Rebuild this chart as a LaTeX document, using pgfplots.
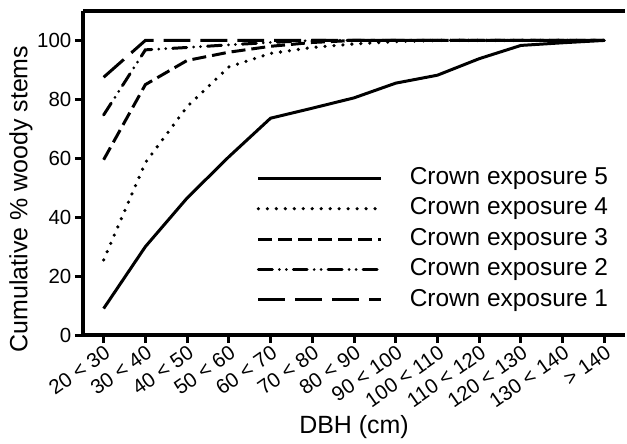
\documentclass[border=0pt]{standalone}
\usepackage{fontspec}
\setmainfont{Liberation Sans}
\usepackage{pgfplots}
\usepackage{pgfplotstable}
\pgfplotsset{compat=1.18}

% cumulative % of woody stems per DBH class (0 = 20<30 ... 12 = >140)
\pgfplotstableread{
x  ce5   ce4   ce3   ce2   ce1
0  9.0   25.5  59.5  74.7  87.5
1  30.0  58.5  85.0  96.8  100
2  46.5  77.5  93.2  97.6  100
3  60.5  91.0  96.0  98.5  100
4  73.6  95.6  98.0  99.3  100
5  77.0  97.6  99.3  100   100
6  80.5  98.8  100   100   100
7  85.5  99.6  100   100   100
8  88.2  100   100   100   100
9  93.8  100   100   100   100
10 98.3  100   100   100   100
11 99.2  100   100   100   100
12 100   100   100   100   100
}\crowndata

\begin{document}
\begin{tikzpicture}
\begin{axis}[
    scale only axis, width=544pt, height=325pt,
    xmin=-0.5, xmax=12.5, ymin=0, ymax=110,
    axis x line=box, axis y line=left,
    axis line style={line width=3.5pt, -},
    xtick pos=bottom, ytick pos=left,
    tick align=outside, major tick length=8pt,
    every tick/.style={black, line width=3pt},
    xtick={0,...,12},
    xticklabels={20 < 30, 30 < 40, 40 < 50, 50 < 60, 60 < 70, 70 < 80, 80 < 90,
                 90 < 100, 100 < 110, 110 < 120, 120 < 130, 130 < 140, > 140},
    ytick={0,20,...,100},
    /pgf/number format/assume math mode=true,
    tick label style={font=\fontsize{20.5}{24}\selectfont},
    x tick label style={rotate=35, anchor=north east, inner sep=1pt},
    xlabel={DBH (cm)}, ylabel={Cumulative \% woody stems},
    every axis x label/.style={at={(axis description cs:0.5,-0.283)}, anchor=center,
                               font=\fontsize{25}{28}\selectfont},
    every axis y label/.style={at={(axis description cs:-0.114,0.42)}, rotate=90, anchor=center,
                               font=\fontsize{25}{28}\selectfont},
    legend image code/.code={\draw[#1] (0pt,0pt) -- (123pt,0pt);},
    legend cell align=left,
    legend style={at={(0.32,0.522)}, anchor=north west, draw=none, fill=none,
                  inner sep=0pt, row sep=6pt,
                  font=\fontsize{24.5}{24.5}\selectfont,
                  nodes={inner sep=1pt, text height=17.5pt, text depth=5pt},
                  /tikz/every odd column/.style={column sep=26pt}},
    clip=false,
]
\addplot[black, line width=3pt] table[x=x, y=ce5] {\crowndata};
\addlegendentry{Crown exposure 5}
\addplot[black, line width=3.6pt, line cap=round, dash pattern=on 0pt off 9pt] table[x=x, y=ce4] {\crowndata};
\addlegendentry{Crown exposure 4}
\addplot[black, line width=3pt, dash pattern=on 14pt off 6pt] table[x=x, y=ce3] {\crowndata};
\addlegendentry{Crown exposure 3}
\addplot[black, line width=3pt, line cap=round, dash pattern=on 14pt off 7pt on 0pt off 7pt on 0pt off 7pt] table[x=x, y=ce2] {\crowndata};
\addlegendentry{Crown exposure 2}
\addplot[black, line width=3pt, dash pattern=on 27pt off 10pt] table[x=x, y=ce1] {\crowndata};
\addlegendentry{Crown exposure 1}
\path[use as bounding box] (rel axis cs:-0.1526,-0.3354) rectangle (rel axis cs:1,1.0338);
\end{axis}
\end{tikzpicture}
\end{document}
